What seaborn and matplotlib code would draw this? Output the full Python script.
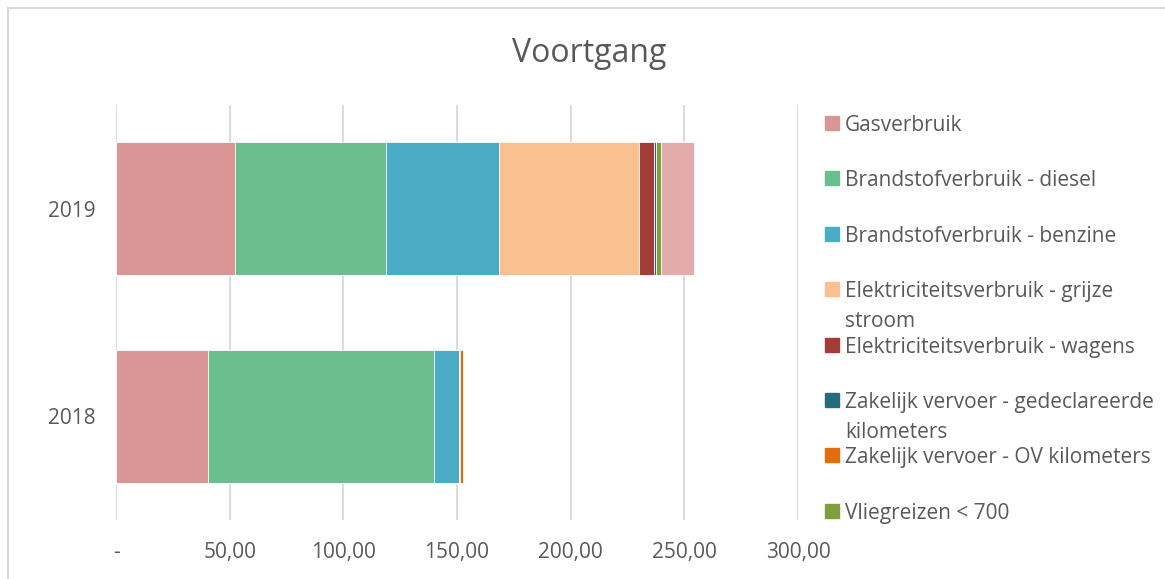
import seaborn as sns
import matplotlib.pyplot as plt
from matplotlib.patches import Rectangle
from matplotlib.ticker import FuncFormatter
import numpy as np
import pandas as pd

years = ['2019', '2018']
series = [
    'Gasverbruik',
    'Brandstofverbruik - diesel',
    'Brandstofverbruik - benzine',
    'Elektriciteitsverbruik - grijze stroom',
    'Elektriciteitsverbruik - wagens',
    'Zakelijk vervoer - gedeclareerde kilometers',
    'Zakelijk vervoer - OV kilometers',
    'Vliegreizen < 700',
    'Vliegreizen > 700',
]
legend_labels = [
    'Gasverbruik',
    'Brandstofverbruik - diesel',
    'Brandstofverbruik - benzine',
    'Elektriciteitsverbruik - grijze\nstroom',
    'Elektriciteitsverbruik - wagens',
    'Zakelijk vervoer - gedeclareerde\nkilometers',
    'Zakelijk vervoer - OV kilometers',
    'Vliegreizen < 700',
]
values_2019 = [52.3, 66.5, 49.7, 61.6, 6.6, 0.8, 0.1, 2.2, 14.6]
values_2018 = [40.5, 99.5, 10.7, 0.0, 0.0, 0.7, 1.2, 0.0, 0.0]
colors = ['#D99694', '#6ABE90', '#4BACC6', '#FAC090', '#A33B37',
          '#246B7D', '#E46C0A', '#7F9F3F', '#E3ACAB']

text_col = '#595959'
grid_col = '#D9D9D9'

sns.set_style('white')
plt.rcParams['font.family'] = ['Open Sans', 'DejaVu Sans']

df = pd.DataFrame({'year': np.repeat(years, len(series)),
                   'series': series * 2,
                   'value': values_2019 + values_2018})
df['cum'] = df.groupby('year')['value'].cumsum()

W, H = 1165, 579
fig = plt.figure(figsize=(W / 100, H / 100), dpi=100)
ax = fig.add_axes([116 / W, (H - 520) / H, (798 - 116) / W, (520 - 105) / H])

# stacked bars: draw cumulative totals from the last series to the first
for i in range(len(series) - 1, -1, -1):
    sub = df[df['series'] == series[i]]
    sns.barplot(data=sub, x='cum', y='year', order=years, color=colors[i],
                width=0.64, orient='h', ax=ax, edgecolor='white', linewidth=0.6,
                saturation=1, zorder=3)

ax.set_xlim(0, 300)
ax.set_xticks(np.arange(0, 301, 50))
ax.xaxis.set_major_formatter(FuncFormatter(
    lambda v, p: '-' if v == 0 else f'{v:.2f}'.replace('.', ',')))
ax.grid(axis='x', color=grid_col, linewidth=1.3, zorder=0)
ax.grid(axis='y', visible=False)
for s in ax.spines.values():
    s.set_visible(False)
ax.tick_params(axis='x', length=0, pad=16, labelsize=15, labelcolor=text_col)
ax.tick_params(axis='y', length=0, pad=15, labelsize=15, labelcolor=text_col)
ax.get_xticklabels()[0].set_x(-3)
ax.set_xlabel('')
ax.set_ylabel('')

fig.text(589 / W, 1 - 54 / H, 'Voortgang', ha='center', va='center',
         fontsize=23, color=text_col)

# legend
for i, lab in enumerate(legend_labels):
    yc = 1 - (123 + i * 55.4) / H
    fig.patches.append(Rectangle((825 / W, yc - 7 / H), 14 / W, 14 / H,
                                 transform=fig.transFigure, color=colors[i]))
    for j, line in enumerate(lab.split('\n')):
        fig.text(845 / W, yc - j * 30 / H, line, ha='left', va='center_baseline',
                 fontsize=15, color=text_col)

# chart border
fig.patches.append(Rectangle((8 / W, -0.1), 2, 1.1 - 8 / H, transform=fig.transFigure,
                             fill=False, edgecolor=grid_col, linewidth=1.5))

fig.savefig('out.png', dpi=100)
